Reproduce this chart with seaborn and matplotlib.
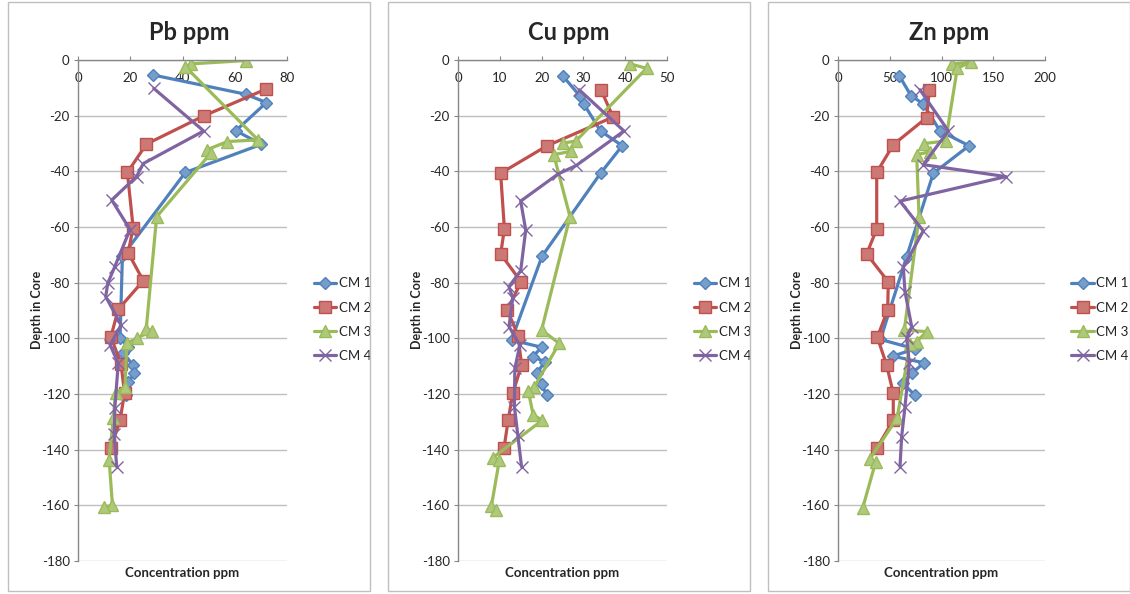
import numpy as np
import pandas as pd
import seaborn as sns
import matplotlib.pyplot as plt
from matplotlib.patches import Rectangle

# depth (cm, negative downwards) and concentration readings for each core
pb_cm1_depth = [-5.4, -12.3, -15.3, -25.4, -30.3, -40.4, -70.4, -100.0, -103.0, -105.3, -109.6, -112.6, -115.6, -120.4]
pb_cm1 = [28.8, 64.2, 72.1, 60.4, 70.2, 41.1, 17.0, 16.1, 19.3, 17.4, 21.0, 21.6, 19.3, 18.3]
pb_cm2_depth = [-10.4, -20.1, -30.2, -40.4, -60.2, -69.3, -79.3, -89.6, -99.4, -109.4, -119.7, -129.4, -139.4]
pb_cm2 = [72.1, 48.1, 26.2, 18.9, 21.1, 19.2, 25.0, 15.4, 12.6, 16.5, 17.8, 16.1, 12.6]
pb_cm3_depth = [-0.2, -1.4, -2.4, -28.7, -29.3, -32.3, -33.5, -56.3, -96.8, -97.3, -100.0, -101.8, -117.4, -119.8, -128.8, -143.6, -160.0, -160.6]
pb_cm3 = [64.2, 43.2, 41.1, 68.9, 57.2, 49.2, 50.8, 30.1, 26.1, 28.2, 22.5, 18.7, 18.0, 14.4, 13.5, 11.9, 13.2, 9.9]
pb_cm4_depth = [-10.2, -25.5, -37.2, -41.9, -50.3, -60.9, -74.2, -80.2, -85.0, -95.2, -102.4, -109.0, -125.0, -134.5, -146.1]
pb_cm4 = [29.0, 48.1, 25.0, 22.4, 12.9, 19.9, 14.1, 11.4, 10.6, 16.5, 12.3, 15.4, 14.1, 13.9, 14.8]

cu_cm1_depth = [-5.6, -12.8, -15.8, -25.5, -30.8, -40.7, -70.5, -100.6, -103.2, -106.6, -108.4, -112.6, -116.4, -120.4]
cu_cm1 = [25.0, 29.1, 30.1, 34.1, 39.3, 34.1, 20.1, 12.8, 20.0, 17.9, 20.8, 18.8, 20.0, 21.2]
cu_cm2_depth = [-10.7, -20.5, -30.9, -40.7, -60.7, -69.7, -79.7, -89.8, -99.2, -109.6, -119.8, -129.4, -139.5]
cu_cm2 = [34.2, 37.1, 21.2, 10.2, 11.1, 10.2, 15.1, 11.8, 14.4, 15.2, 13.1, 12.0, 11.0]
cu_cm3_depth = [-1.4, -3.0, -29.1, -29.9, -32.8, -34.0, -56.3, -97.0, -101.8, -117.4, -118.8, -127.6, -129.4, -142.9, -143.7, -160.2, -161.5]
cu_cm3 = [41.2, 45.1, 28.2, 25.0, 27.1, 22.9, 26.8, 20.0, 24.2, 18.3, 16.8, 18.0, 20.2, 8.3, 9.9, 8.0, 9.1]
cu_cm4_depth = [-10.7, -25.5, -37.9, -41.0, -50.7, -61.1, -75.7, -81.4, -85.6, -95.8, -102.4, -110.8, -124.6, -134.7, -146.1]
cu_cm4 = [29.0, 39.7, 28.3, 23.9, 15.0, 16.2, 15.0, 12.2, 13.1, 12.2, 14.8, 13.6, 13.5, 14.3, 15.2]

zn_cm1_depth = [-5.7, -12.8, -15.8, -25.5, -30.8, -40.7, -70.7, -100.4, -103.8, -106.4, -108.8, -112.6, -116.2, -120.4]
zn_cm1 = [59.3, 70.5, 82.4, 98.6, 126.6, 92.1, 66.3, 41.0, 74.4, 52.8, 83.1, 71.2, 62.5, 74.4]
zn_cm2_depth = [-10.7, -20.7, -30.4, -40.4, -60.7, -69.7, -79.7, -89.8, -99.6, -109.6, -119.8, -129.4, -139.5]
zn_cm2 = [88.2, 85.7, 53.5, 37.4, 37.4, 27.7, 48.6, 48.0, 38.0, 47.0, 53.4, 53.4, 37.4]
zn_cm3_depth = [-1.4, -0.8, -2.9, -29.1, -30.0, -33.0, -34.0, -56.3, -97.0, -97.6, -101.2, -102.2, -128.8, -143.2, -144.4, -161.0]
zn_cm3 = [110.5, 128.5, 115.3, 104.0, 83.4, 88.9, 76.0, 78.3, 64.1, 85.7, 76.0, 69.6, 57.0, 31.0, 36.4, 23.8]
zn_cm4_depth = [-10.7, -25.5, -37.6, -41.9, -50.7, -61.4, -74.5, -83.2, -95.8, -100.0, -109.0, -124.6, -135.3, -146.1]
zn_cm4 = [79.2, 106.6, 82.4, 162.3, 59.9, 82.4, 63.1, 64.7, 71.2, 66.4, 68.9, 64.7, 61.5, 59.9]

cores = ["CM 1", "CM 2", "CM 3", "CM 4"]
titles = ["Pb ppm", "Cu ppm", "Zn ppm"]
xmax = [80, 50, 200]
xstep = [20, 10, 50]

panels = [
    [(pb_cm1_depth, pb_cm1), (pb_cm2_depth, pb_cm2), (pb_cm3_depth, pb_cm3), (pb_cm4_depth, pb_cm4)],
    [(cu_cm1_depth, cu_cm1), (cu_cm2_depth, cu_cm2), (cu_cm3_depth, cu_cm3), (cu_cm4_depth, cu_cm4)],
    [(zn_cm1_depth, zn_cm1), (zn_cm2_depth, zn_cm2), (zn_cm3_depth, zn_cm3), (zn_cm4_depth, zn_cm4)],
]

colors = ["#4F81BD", "#C0504D", "#9BBB59", "#8064A2"]
markers = ["D", "s", "^", "x"]
msizes = [6, 8, 8, 8]

sns.set_style("white")
plt.rcParams['font.family'] = ['Lato', 'DejaVu Sans']
plt.rcParams['axes.unicode_minus'] = False

fig = plt.figure(figsize=(11.3, 5.94), dpi=100)
W, H = 1130, 594

panel_left = [8, 388, 768]
axes_left = [78, 458, 838]
axes_width = [209, 209, 207]

for i in range(3):
    # chart border
    fig.add_artist(Rectangle((panel_left[i] / W, 3 / H), 362 / W, 589 / H,
                             transform=fig.transFigure, fill=False,
                             edgecolor="#BFBFBF", lw=1))
    ax = fig.add_axes([axes_left[i] / W, 1 - 561 / H, axes_width[i] / W, 501 / H])

    for j, (depth, conc) in enumerate(panels[i]):
        df = pd.DataFrame({"conc": conc, "depth": depth})
        mk = markers[j]
        kw = dict(markeredgecolor=colors[j], markeredgewidth=1.0)
        if mk != "x":
            kw["markerfacecolor"] = sns.light_palette(colors[j], 5)[3]
        sns.lineplot(data=df, x="conc", y="depth", sort=False, estimator=None,
                     color=colors[j], lw=2.3, marker=mk, markersize=msizes[j],
                     label=cores[j], ax=ax, **kw)

    ax.set_xlim(0, xmax[i])
    ax.set_ylim(-180, 0)
    ax.set_xticks(np.arange(0, xmax[i] + 1, xstep[i]))
    ax.set_yticks(np.arange(-180, 1, 20))
    ax.set_xlabel("")
    ax.set_ylabel("")
    ax.grid(axis="y", color="#BEBEBE", lw=1)
    ax.grid(axis="x", visible=False)
    ax.xaxis.set_ticks_position("top")
    ax.tick_params(axis="x", top=True, bottom=False, labeltop=True, labelbottom=False,
                   direction="out", length=3, color="#878787", pad=-20, labelsize=9.5)
    ax.tick_params(axis="y", left=True, direction="out", length=3, color="#878787",
                   pad=3, labelsize=9.5)
    for s in ["right", "bottom"]:
        ax.spines[s].set_visible(False)
    for s in ["left", "top"]:
        ax.spines[s].set_color("#878787")
        ax.spines[s].set_linewidth(1)

    ax.legend(loc="upper left", bbox_to_anchor=(1.07, 0.59), frameon=False,
              fontsize=9.5, handlelength=1.7, labelspacing=0.93, handletextpad=0.2)

    cx = (axes_left[i] + axes_width[i] / 2) / W
    fig.text((panel_left[i] + 181) / W, 1 - 33 / H, titles[i], ha="center", va="center",
             fontsize=17, fontweight="bold")
    fig.text(cx, 1 - 573 / H, "Concentration ppm", ha="center", va="center",
             fontsize=9.5, fontweight="bold")
    fig.text((panel_left[i] + 29) / W, 1 - 310 / H, "Depth in Core", ha="center", va="center",
             rotation=90, fontsize=9, fontweight="bold")

fig.savefig("out.png", dpi=100)
